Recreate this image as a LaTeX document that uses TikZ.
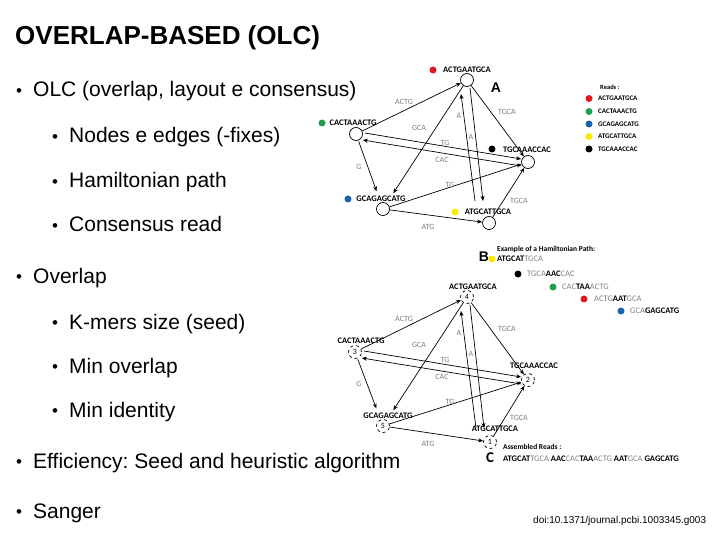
\documentclass[tikz,border=0pt]{standalone}
\usepackage{fontspec}
\setmainfont{Liberation Sans}
\newfontfamily\figfont{Carlito}
\usetikzlibrary{arrows.meta}
\frenchspacing
\definecolor{rred}{RGB}{225,25,30}
\definecolor{rgreen}{RGB}{30,160,75}
\definecolor{rblue}{RGB}{25,100,170}
\definecolor{ryellow}{RGB}{250,235,0}
\definecolor{labgray}{RGB}{125,125,125}
\definecolor{seqgray}{RGB}{130,130,130}
\newcommand\gr[1]{{\mdseries\color{seqgray}#1}}
\newcommand\olcedges[3]{%
  \draw[arr] (#1c) -- (#1t);
  \draw[arr,shorten >=12pt] (#1t) -- (#1g);
  \draw[arr] (#1t) -- (#1h);
  \draw[arr] ([shift={(-14,#3)}]#1a.center) -- ([shift={(-6,14)}]#1t.center);
  \draw[arr] ([shift={(3,8)}]#1t.center) -- ([shift={(-6,#3)}]#1a.center);
  \draw[arr] ([shift={(2,-1)}]#1c.east) -- ([shift={(0,-3)}]#1h.west);
  \draw[arr] ([shift={(0,4)}]#1h.west) -- ([shift={(0,6)}]#1c.east);
  \draw[arr,shorten <=1pt,shorten >=12pt] (#1c) -- (#1g);
  \draw[arr] (#1g) -- (#1h);
  \draw[arr] (#1g) -- (#1a);
  \draw[arr] (#1a) -- (#1h);
  \begin{scope}[shift={(0,#2)}]
    \node[elab] (#1e1) at (404,102) {ACTG};
    \node[elab] (#1e2) at (419,128) {GCA};
    \node[elab] (#1e3) at (507,112) {TGCA};
    \node[elab] (#1e4) at (459,116) {A};
    \node[elab] (#1e5) at (471,137) {A};
    \node[elab] (#1e6) at (445,143) {TG};
    \node[elab] (#1e7) at (442,160) {CAC};
    \node[elab] (#1e8) at (359,167) {G};
    \node[elab] (#1e9) at (450,185) {TG};
    \node[elab] (#1e10) at (428,227) {ATG};
    \node[elab] (#1e11) at (519,201) {TGCA};
  \end{scope}
}
\begin{document}
\begin{tikzpicture}[x=1pt,y=-1pt,
  main/.style={anchor=base west,inner sep=0pt,font=\fontsize{21}{25}\selectfont},
  bul/.style={anchor=base,inner sep=0pt,font=\fontsize{17}{18}\selectfont},
  vnode/.style={circle,draw,line width=0.7pt,minimum size=13pt,inner sep=0pt},
  dnode/.style={vnode,dashed,font=\figfont\fontsize{8}{9}\selectfont},
  seq/.style={inner sep=0pt,font=\figfont\bfseries\fontsize{8.5}{10}\selectfont},
  lseq/.style={inner sep=0pt,anchor=west,font=\figfont\bfseries\fontsize{7}{8}\selectfont},
  elab/.style={inner sep=0pt,text=labgray,font=\figfont\fontsize{8}{9}\selectfont},
  dot/.style={circle,inner sep=0pt,minimum size=7pt},
  panel/.style={inner sep=0pt,font=\bfseries\fontsize{14}{16}\selectfont},
  arr/.style={-{Stealth[length=5pt,width=4pt]},line width=0.7pt}]
\useasboundingbox (0,0) rectangle (720,540);

% ---- slide text ----
\node[anchor=base west,inner sep=0pt,font=\bfseries\fontsize{26}{30}\selectfont] (title) at (15,45) {OVERLAP-BASED (OLC)};
\node[bul] (b1) at (19,96.5) {•};   \node[main] (t1) at (33,97) {OLC (overlap, layout e consensus)};
\node[bul] (b2) at (55,142.5) {•};  \node[main] (t2) at (69,143) {Nodes e edges (-fixes)};
\node[bul] (b3) at (55,187.5) {•};  \node[main] (t3) at (69,188) {Hamiltonian path};
\node[bul] (b4) at (55,231.5) {•};  \node[main] (t4) at (69,232) {Consensus read};
\node[bul] (b5) at (19,282.5) {•};  \node[main] (t5) at (33,283) {Overlap};
\node[bul] (b6) at (55,328.5) {•};  \node[main] (t6) at (69,329) {K-mers size (seed)};
\node[bul] (b7) at (55,372.5) {•};  \node[main] (t7) at (69,373) {Min overlap};
\node[bul] (b8) at (55,416.5) {•};  \node[main] (t8) at (69,417) {Min identity};
\node[bul] (b9) at (19,467.5) {•};  \node[main] (t9) at (33,468) {Efficiency: Seed and heuristic algorithm};
\node[bul] (b10) at (19,517.5) {•}; \node[main] (t10) at (33,518) {Sanger};

% ---- panel A ----
\node[panel] (pA) at (496,88) {A};
\node[vnode] (At) at (467,80) {};
\node[vnode] (Ac) at (356,134) {};
\node[vnode] (Ag) at (383,209) {};
\node[vnode] (Aa) at (489,223) {};
\node[vnode] (Ah) at (528,162) {};
\node[seq] (Atl) at (467,70) {ACTGAATGCA};   \node[dot,fill=rred] (Atd) at (433,70) {};
\node[seq] (Acl) at (353,123) {CACTAAACTG};  \node[dot,fill=rgreen] (Acd) at (322,123) {};
\node[seq] (Agl) at (381,199) {GCAGAGCATG};  \node[dot,fill=rblue] (Agd) at (348,199) {};
\node[seq] (Aal) at (488,212) {ATGCATTGCA};  \node[dot,fill=ryellow] (Aad) at (455,212) {};
\node[seq] (Ahl) at (527,150) {TGCAAACCAC};  \node[dot,fill=black] (Ahd) at (492,149) {};
\olcedges{A}{0}{-22}

% reads legend
\node[inner sep=0pt,anchor=west,font=\figfont\bfseries\fontsize{6.5}{8}\selectfont] (rd) at (600,87) {Reads :};
\node[dot,fill=rred] (r1d) at (589,98.5) {};    \node[lseq] (r1) at (598,98.5) {ACTGAATGCA};
\node[dot,fill=rgreen] (r2d) at (589,111.5) {}; \node[lseq] (r2) at (598,111.5) {CACTAAACTG};
\node[dot,fill=rblue] (r3d) at (589,124) {};    \node[lseq] (r3) at (598,124) {GCAGAGCATG};
\node[dot,fill=ryellow] (r4d) at (589,136.5) {};\node[lseq] (r4) at (598,136.5) {ATGCATTGCA};
\node[dot,fill=black] (r5d) at (589,149) {};    \node[lseq] (r5) at (598,149) {TGCAAACCAC};

% ---- panel B ----
\node[panel] (pB) at (484,257) {B};
\node[inner sep=0pt,anchor=west,font=\figfont\bfseries\fontsize{7.5}{9}\selectfont] (ex) at (497,249) {Example of a Hamiltonian Path:};
\node[dot,fill=ryellow] (s1d) at (492,259) {}; \node[seq,anchor=west] (s1) at (497,259) {ATGCAT\gr{TGCA}};
\node[dot,fill=black] (s2d) at (518,274) {};   \node[seq,anchor=west] (s2) at (527,274) {\gr{TGCA}AAC\gr{CAC}};
\node[dot,fill=rgreen] (s3d) at (553,287) {};  \node[seq,anchor=west] (s3) at (562,287) {\gr{CAC}TAA\gr{ACTG}};
\node[dot,fill=rred] (s4d) at (584,299) {};    \node[seq,anchor=west] (s4) at (594,299) {\gr{ACTG}AAT\gr{GCA}};
\node[dot,fill=rblue] (s5d) at (621,311) {};   \node[seq,anchor=west] (s5) at (630,311) {\gr{GCA}GAGCATG};

\node[dnode] (Bt) at (467,297) {4};
\node[dnode] (Bc) at (355,352) {3};
\node[dnode] (Bg) at (383,426) {5};
\node[dnode] (Ba) at (490,442) {1};
\node[dnode] (Bh) at (528,380) {2};
\node[seq] (Btl) at (473,287) {ACTGAATGCA};
\node[seq] (Bcl) at (361,341) {CACTAAACTG};
\node[seq] (Bgl) at (388,416) {GCAGAGCATG};
\node[seq] (Bal) at (495,429) {ATGCATTGCA};
\node[seq] (Bhl) at (534,366) {TGCAAACCAC};
\olcedges{B}{217}{-14}

% ---- panel C ----
\node[panel,font=\figfont\bfseries\fontsize{15}{16}\selectfont] (pC) at (490,458) {C};
\node[inner sep=0pt,anchor=west,font=\figfont\bfseries\fontsize{7.5}{9}\selectfont] (as) at (503,447) {Assembled Reads :};
\node[seq,anchor=west] (cs) at (503,459) {ATGCAT\gr{TGCA} AAC\gr{CAC}TAA\gr{ACTG} AAT\gr{GCA} GAGCATG};

\node[anchor=base west,inner sep=0pt,font=\fontsize{10}{12}\selectfont] (doi) at (533,523) {doi:10.1371/journal.pcbi.1003345.g003};
\end{tikzpicture}
\end{document}
